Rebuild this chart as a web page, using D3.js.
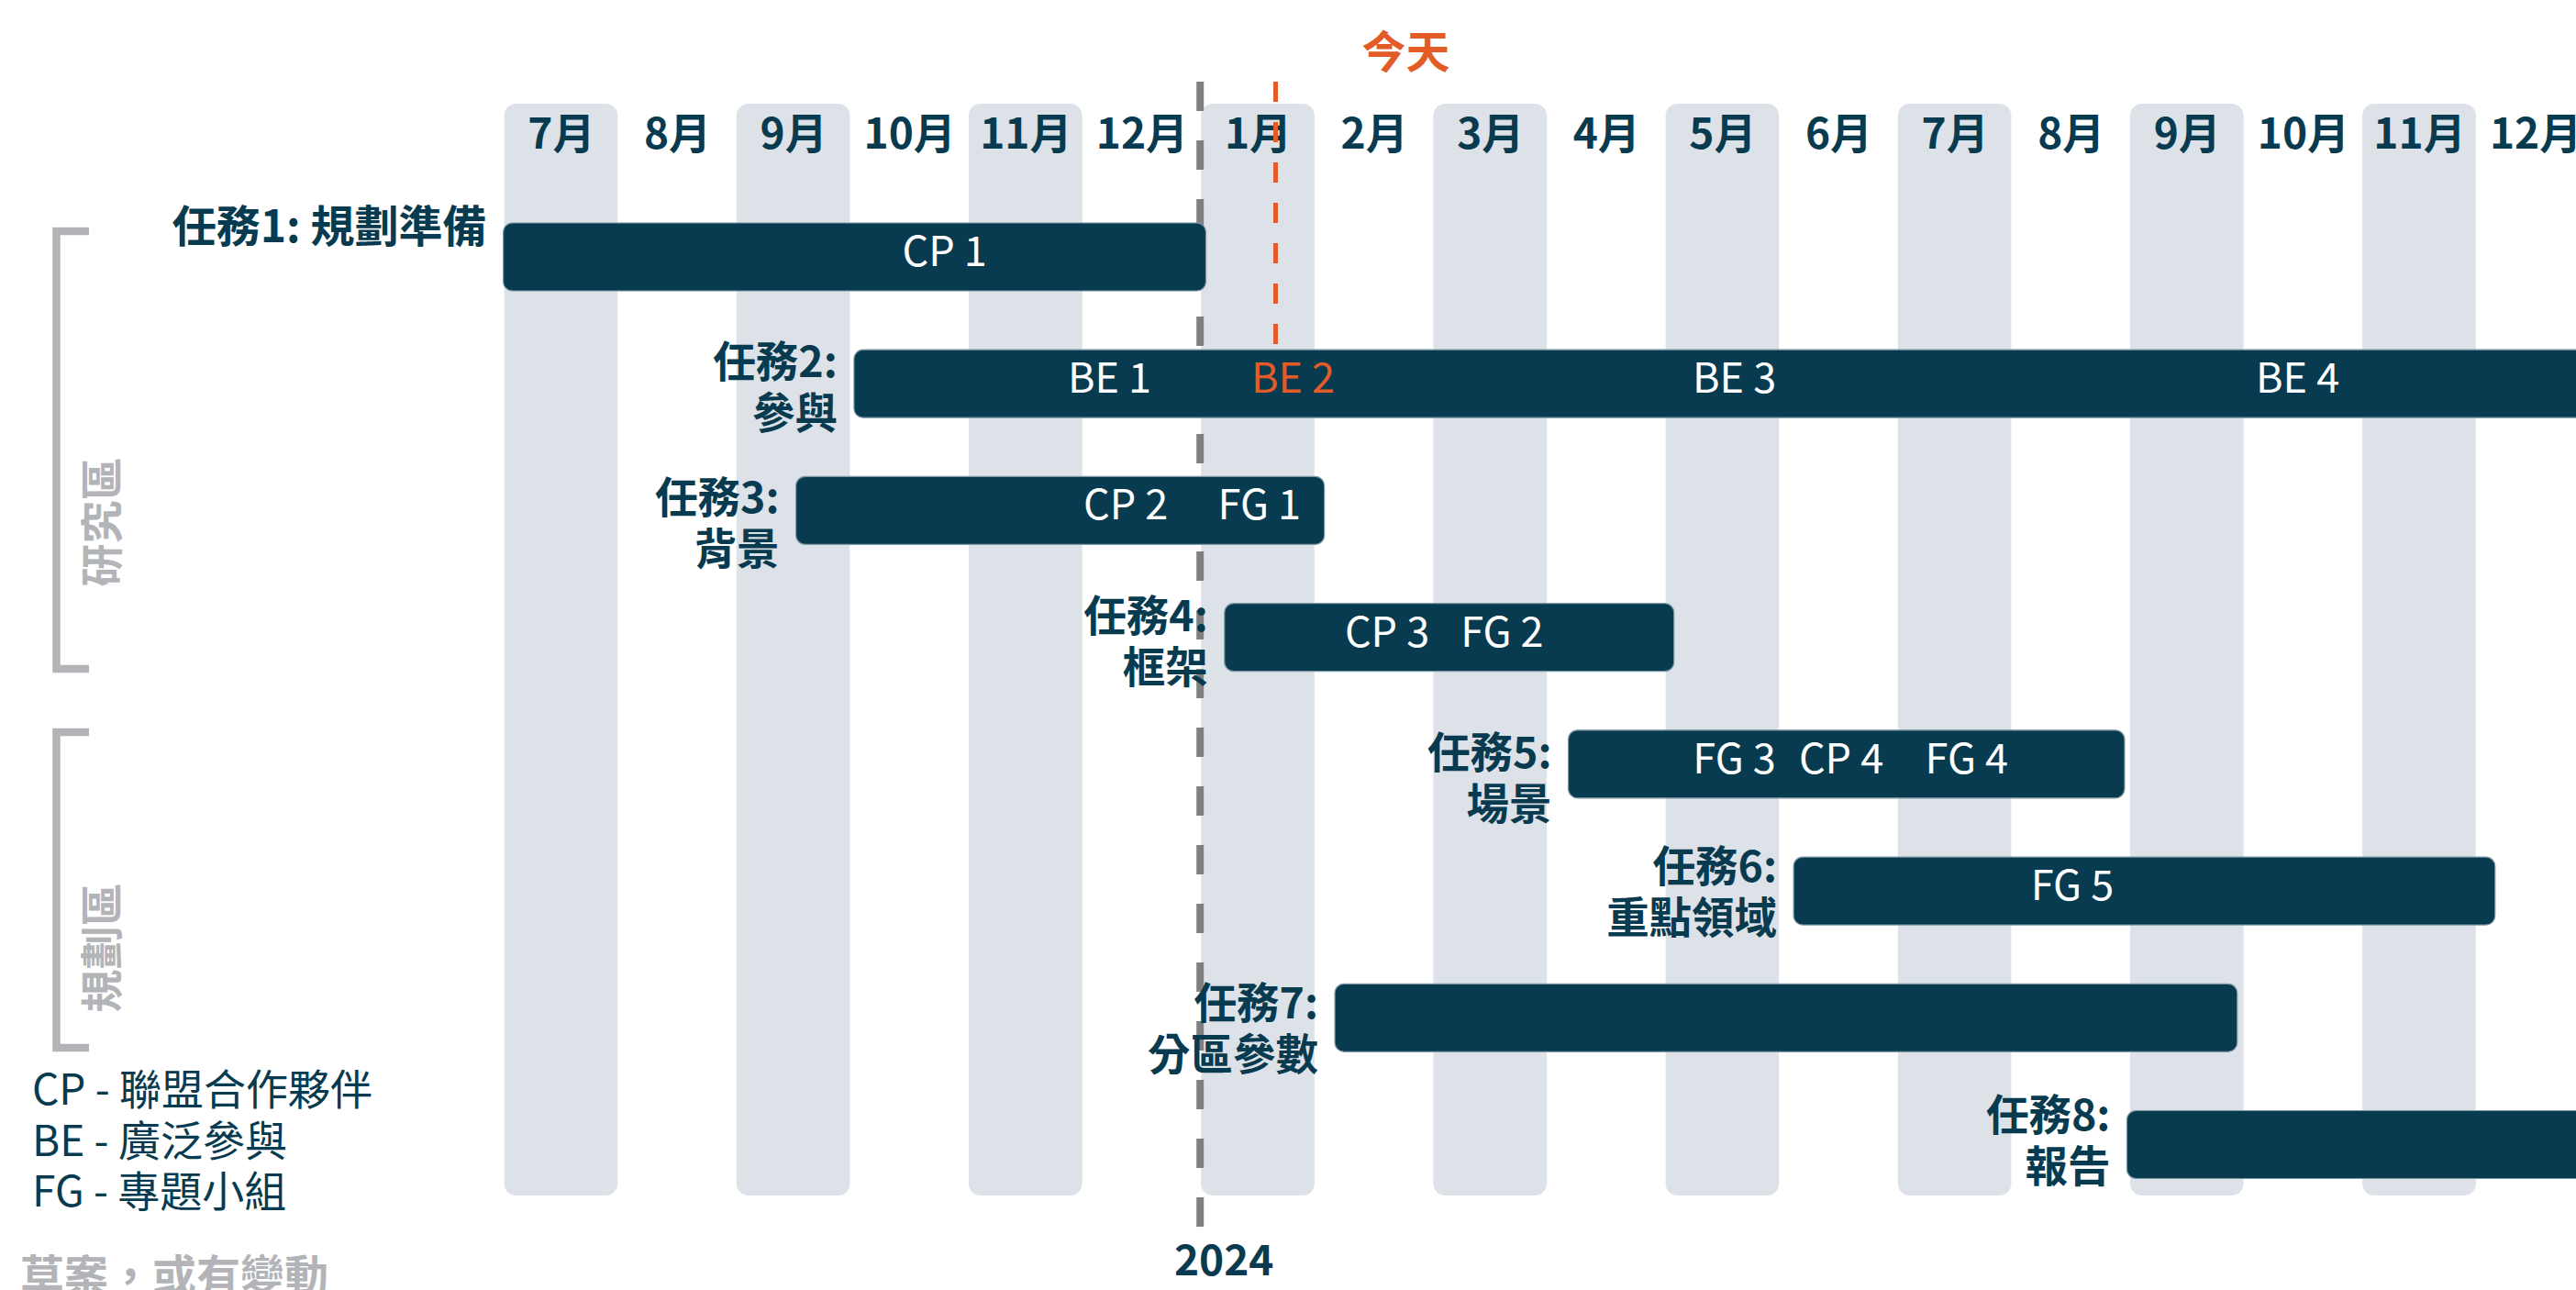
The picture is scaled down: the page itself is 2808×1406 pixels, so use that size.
<!DOCTYPE html>
<html>
<head>
<meta charset="utf-8">
<script src="https://cdn.jsdelivr.net/npm/d3@7"></script>
<style>
  html, body { margin: 0; padding: 0; background: #fff; }
  svg { display: block; font-family: "Noto Sans CJK TC", "Noto Sans CJK SC", "Noto Sans", sans-serif; }
</style>
</head>
<body>
<svg id="chart"></svg>
<script>
// 月份 (2023年7月 - 2024年12月)
const months = ["7月","8月","9月","10月","11月","12月","1月","2月","3月","4月","5月","6月","7月","8月","9月","10月","11月","12月"];

// 任務, 以月份序號表示起迄 (0 = 2023年7月初)
const taskIds   = ["任務1","任務2","任務3","任務4","任務5","任務6","任務7","任務8"];
const taskNames = ["規劃準備","參與","背景","框架","場景","重點領域","分區參數","報告"];
const taskStart = [0, 3.02, 2.52, 6.21, 9.17, 11.11, 7.16, 13.98];
const taskEnd   = [6.05, 18.6, 7.07, 10.08, 13.96, 17.15, 14.93, 18.6];

// 里程碑標籤
const markTask = ["任務1","任務2","任務2","任務2","任務2","任務3","任務3","任務4","任務4","任務5","任務5","任務5","任務6"];
const markText = ["CP 1","BE 1","BE 2","BE 3","BE 4","CP 2","FG 1","CP 3","FG 2","FG 3","CP 4","FG 4","FG 5"];
const markAt   = [3.80, 5.22, 6.80, 10.60, 15.45, 5.36, 6.51, 7.61, 8.60, 10.60, 11.52, 12.60, 13.51];
const markToday = ["BE 2"];

const todayAt = 6.65;
const yearStart = 6;
const yearLabel = "2024";

const zoneNames = ["研究區","規劃區"];
const legendCodes = ["CP","BE","FG"];
const legendNames = ["聯盟合作夥伴","廣泛參與","專題小組"];
const footNote = "草案，或有變動";

// ---- 版面 ----
const W = 2808, H = 1406;
const navy = "#083b4f", band = "#dde1e8", orange = "#e35b26", grey = "#b3b4b7", dash = "#808083";

const svg = d3.select("#chart").attr("width", W).attr("height", H);

const x = d3.scaleLinear().domain([0, 18]).range([548.6, 548.6 + 18 * 126.6]);
const y = d3.scalePoint().domain(taskIds).range([280, 1247.5]);
const barH = 74;

// 月份色帶
svg.append("g").selectAll("rect")
  .data(months.map((m, i) => i).filter(i => i % 2 === 0))
  .join("rect")
  .attr("x", i => x(i) + 1)
  .attr("width", i => x(i + 1) - x(i) - 3)
  .attr("y", 113)
  .attr("height", 1303 - 113)
  .attr("rx", 13)
  .attr("fill", band);

// 月份標籤
svg.append("g").selectAll("text")
  .data(months)
  .join("text")
  .attr("x", (d, i) => x(i + 0.5))
  .attr("y", 162)
  .attr("text-anchor", "middle")
  .attr("font-size", 46)
  .attr("font-weight", 700)
  .attr("fill", navy)
  .text(d => d);

// 年份分隔線
svg.append("line")
  .attr("x1", x(yearStart)).attr("x2", x(yearStart))
  .attr("y1", 89).attr("y2", 1339)
  .attr("stroke", dash).attr("stroke-width", 8)
  .attr("stroke-dasharray", "32,32");

svg.append("text")
  .attr("x", x(yearStart) + 26)
  .attr("y", 1390)
  .attr("text-anchor", "middle")
  .attr("font-size", 46)
  .attr("font-weight", 700)
  .attr("fill", navy)
  .text(yearLabel);

// 今天
svg.append("line")
  .attr("x1", x(todayAt)).attr("x2", x(todayAt))
  .attr("y1", 89).attr("y2", 382)
  .attr("stroke", orange).attr("stroke-width", 5)
  .attr("stroke-dasharray", "22,22");

svg.append("text")
  .attr("x", x(todayAt) + 142)
  .attr("y", 74)
  .attr("text-anchor", "middle")
  .attr("font-size", 48)
  .attr("font-weight", 700)
  .attr("fill", orange)
  .text("今天");

// 任務條
svg.append("g").selectAll("rect")
  .data(taskIds)
  .join("rect")
  .attr("x", (d, i) => x(taskStart[i]))
  .attr("width", (d, i) => x(taskEnd[i]) - x(taskStart[i]))
  .attr("y", d => y(d) - barH / 2)
  .attr("height", barH)
  .attr("rx", 10)
  .attr("fill", navy)
  .attr("stroke", "#7d97a3")
  .attr("stroke-width", 1.2);

// 條內標籤
svg.append("g").selectAll("text")
  .data(markText)
  .join("text")
  .attr("x", (d, i) => x(markAt[i]))
  .attr("y", (d, i) => y(markTask[i]) + 10)
  .attr("text-anchor", "middle")
  .attr("font-size", 45)
  .attr("fill", d => markToday.includes(d) ? orange : "#ffffff")
  .text(d => d);

// 任務名稱 (第一行中心相對條中心的偏移)
const lineShift = [-34, -25, -15, -25, -14, -28, -17, -34];
const labels = svg.append("g")
  .attr("font-size", 46.5)
  .attr("font-weight", 700)
  .attr("fill", navy)
  .attr("text-anchor", "end");

taskIds.forEach((id, i) => {
  const lx = x(taskStart[i]) - 18;
  const base = y(id) + lineShift[i] + 18;
  const t = labels.append("text").attr("x", lx).attr("y", base);
  if (i === 0) {
    t.attr("font-size", 48).text(id + ": " + taskNames[i]);
  } else {
    t.append("tspan").attr("x", lx).text(id + ":");
    t.append("tspan").attr("x", lx).attr("dy", 56).text(taskNames[i]);
  }
});

// 區域括號
const zoneSpan = [[252, 729], [798, 1142]];
const zoneLabelY = [569, 1033];
zoneNames.forEach((z, i) => {
  const [a, b] = zoneSpan[i];
  svg.append("path")
    .attr("d", `M97,${a}H61.5V${b}H97`)
    .attr("fill", "none")
    .attr("stroke", grey)
    .attr("stroke-width", 8.5);
  svg.append("text")
    .attr("transform", `translate(107,${zoneLabelY[i]}) rotate(-90)`)
    .attr("text-anchor", "middle")
    .attr("dominant-baseline", "central")
    .attr("font-size", 47)
    .attr("font-weight", 700)
    .attr("fill", grey)
    .text(z);
});

// 圖例
svg.append("g").selectAll("text")
  .data(legendCodes)
  .join("text")
  .attr("x", 35)
  .attr("y", (d, i) => 1204 + i * 55.5)
  .attr("font-size", 46)
  .attr("fill", navy)
  .text((d, i) => d + " - " + legendNames[i]);

svg.append("text")
  .attr("x", 22)
  .attr("y", 1408)
  .attr("font-size", 48)
  .attr("font-weight", 700)
  .attr("fill", grey)
  .text(footNote);
</script>
</body>
</html>
